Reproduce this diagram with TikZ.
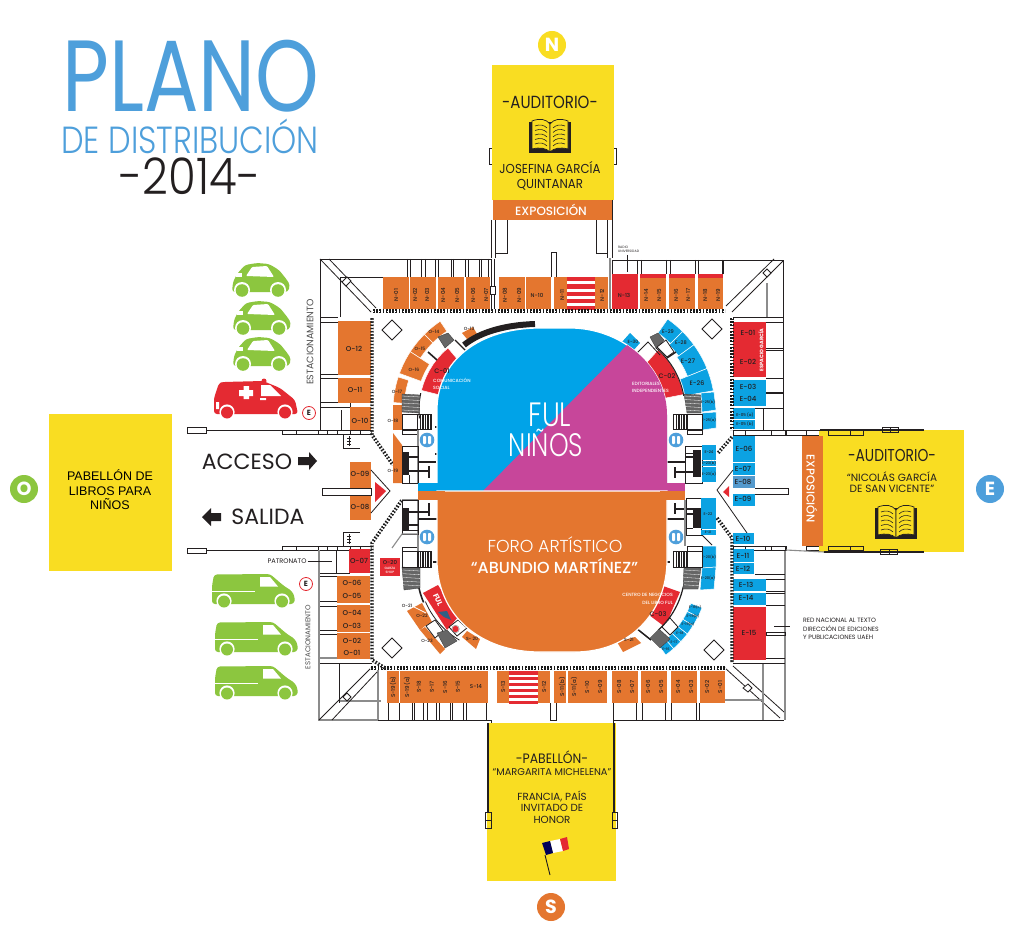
\documentclass[tikz,border=0pt]{standalone}
\usepackage{fontspec}
\usepackage{graphicx}
\setmainfont{Poppins}
\newfontfamily\lightf{Poppins Light}
\newfontfamily\medf{Poppins Medium}
\newfontfamily\arialf{Liberation Sans}
\definecolor{cor}{HTML}{E4762F}
\definecolor{cbl}{HTML}{0CA2E2}
\definecolor{cre}{HTML}{E42A32}
\definecolor{cye}{HTML}{F9DD22}
\definecolor{cma}{HTML}{C7469A}
\definecolor{csh}{HTML}{00A3E8}
\definecolor{cgr}{HTML}{8CC63F}
\definecolor{ctt}{HTML}{4E9FDB}
\definecolor{cdk}{HTML}{231F20}
\tikzset{
  w/.style={draw=cdk,line width=.8},
  g/.style={draw=black!45,line width=1.1},
  chain/.style={draw=black!90,line width=3.4,dash pattern=on 1.8 off 1.4},
  chainw/.style={draw=white,line width=1,dash pattern=on 1.8 off 1.4,dash phase=1.6},
  stairf/.style={fill=black!60,draw=black!80,line width=.3},
  sep/.style={draw=white,line width=.7},
  bk/.style={fill=cdk}
}
\newcommand\sy[2]{\scalebox{1}[#1]{#2}}
\newcommand\bx[5]{\fill[#5] (#1,#2) rectangle (#3,#4);}
\newcommand\lb[4][5.5]{\node[inner sep=0,text=cdk,font=\medf\fontsize{#1}{#1}\selectfont] at (#2,#3) {#4};}
\newcommand\lr[4][5.5]{\node[inner sep=0,text=cdk,rotate=90,font=\medf\fontsize{#1}{#1}\selectfont] at (#2,#3) {#4};}
\newcommand\wt[4][5.5]{\node[inner sep=0,text=white,font=\medf\fontsize{#1}{#1}\selectfont] at (#2,#3) {#4};}
% ring sector: cx cy r1 r2 a1 a2 colour
\newcommand\sect[7]{\filldraw[fill=#7,draw=white,line width=.5] plot[domain=#5:#6,samples=8] ({#1+#4*cos(\x)},{#2-#4*sin(\x)}) -- plot[domain=#6:#5,samples=8] ({#1+#3*cos(\x)},{#2-#3*sin(\x)}) -- cycle;}
\newcommand\arcl[6]{\draw[#6] plot[domain=#4:#5,samples=14] ({#1+#3*cos(\x)},{#2-#3*sin(\x)});}
\newcommand\chainl[1]{\draw[chain] #1; \draw[chainw] #1;}
\newcommand\stripes[6]{\fill[white] (#1,#2) rectangle (#3,#4);
  \foreach \i in {1,...,#5}{\fill[#6] (#1,{#2+(\i-1)*(#4-#2)/(#5-.6)}) rectangle (#3,{#2+(\i-1)*(#4-#2)/(#5-.6)+.6*(#4-#2)/(#5-.6)});}}
\newcommand\vstair[4]{\foreach \i in {0,1,...,5}{\fill[cdk] ({#1+\i*(#3-#1)/5.4},#2) rectangle ({#1+\i*(#3-#1)/5.4+.55*(#3-#1)/5.4},#4);}\draw[w] (#1,#2) rectangle (#3,#4);}
\newcommand\book[4]{\begin{scope}[shift={(#1,#2)},scale=#3]
  \fill[cdk] (-21,-14) rectangle (21,17);
  \filldraw[fill=cye,draw=cdk,line width=.7] (-18,-15) .. controls (-10,-18) and (-4,-17) .. (0,-12) -- (0,16) .. controls (-4,12) and (-10,11) .. (-18,13) -- cycle;
  \filldraw[fill=cye,draw=cdk,line width=.7] (18,-15) .. controls (10,-18) and (4,-17) .. (0,-12) -- (0,16) .. controls (4,12) and (10,11) .. (18,13) -- cycle;
  \foreach \k in {-10,-5.5,-1,3.5,8}{\draw[cdk,line width=.6] (-15,\k) .. controls (-10,{\k-2}) and (-6,{\k-1}) .. (-3,{\k+2}); \draw[cdk,line width=.6] (15,\k) .. controls (10,{\k-2}) and (6,{\k-1}) .. (3,{\k+2});}
  \end{scope}}
\newcommand\car[2]{\begin{scope}[shift={(#1,#2)}]
  \fill[cgr,rounded corners=3] (0,29) -- (1,19) -- (5,11) -- (13,2) -- (25,0) -- (37,1) -- (47,7) -- (55,17) -- (58,22) -- (56,29) -- cycle;
  \fill[white,rounded corners=1] (14,13) -- (20,4) -- (35,3) -- (42,14) -- cycle;
  \fill[white] (4,10) rectangle (10,14);
  \foreach \q in {10,46}{\fill[white] (\q,27) circle (8); \fill[cgr] (\q,27.5) circle (6.3);}
  \end{scope}}
\newcommand\van[2]{\begin{scope}[shift={(#1,#2)}]
  \fill[cgr,rounded corners=3] (0,30) -- (0,12) -- (2,0.5) -- (58,0) -- (72,12) -- (80,17) -- (83,24) -- (82,30) -- cycle;
  \fill[white] (48,3) -- (58,3) -- (66,12.5) -- (48,12.5) -- cycle;
  \draw[white,line width=.6] (0,17) -- (43,17);
  \foreach \q in {12,70}{\fill[white] (\q,27) circle (7.6); \fill[cgr] (\q,27.5) circle (6);}
  \end{scope}}
\begin{document}
\begin{tikzpicture}[x=1pt,y=-1pt]
\useasboundingbox (0,0) rectangle (1022,925);
\fill[white] (0,0) rectangle (1022,925);
% ---- title
\node[inner sep=0,text=ctt,font=\fontsize{81}{81}\selectfont] (titleA) at (191,76) {\sy{1.25}{PLANO}};
\node[inner sep=0,text=ctt,font=\lightf\fontsize{32}{32}\selectfont] (titleB) at (190,136) {\sy{1.18}{DE DISTRIBUCIÓN}};
\node[inner sep=0,text=cdk,font=\lightf\fontsize{45}{45}\selectfont] (titleC) at (190,176) {\sy{1.12}{-2014-}};
% ---- compass discs
\fill[cye] (552,45) circle (14); \node[inner sep=0,text=white,font=\bfseries\fontsize{19}{19}\selectfont] (discN) at (552,45) {N};
\fill[cor] (551,907) circle (14); \node[inner sep=0,text=white,font=\bfseries\fontsize{19}{19}\selectfont] (discS) at (551,907) {S};
\fill[ctt] (990,489) circle (14); \node[inner sep=0,text=white,font=\bfseries\fontsize{19}{19}\selectfont] (discE) at (990,489) {E};
\fill[cgr] (24,489) circle (14); \node[inner sep=0,text=white,font=\bfseries\fontsize{19}{19}\selectfont] (discO) at (24,489) {O};
% ---- outer building
\draw[w] (491,259) -- (320,259) -- (320,430);
\draw[w] (612,260) -- (783,260) -- (783,430);
\draw[w] (320,317) -- (338,317) (320,322) -- (338,322) (320,374) -- (338,374) (320,378) -- (338,378) (320,402) -- (350,402) (320,407) -- (350,407);
\draw[w] (340,317) -- (340,277) -- (383,277);
\draw[w] (341,410) -- (341,430) (350,403) -- (350,407);
\draw[w] (320,259) -- (371,312) (329,259) -- (376,308);
\draw[w,fill=white] (342,282) -- (347,277) -- (351,281) -- (346,286) -- cycle;
\foreach \a in {407,410,421,425,435,438,451,453,465,468,479,481,488}{\draw[w] (\a,259) -- (\a,277);}
\draw[w] (491,220) -- (491,258) (495,220) -- (495,258) (507,220) -- (507,253) -- (495,253);
\draw[w] (596,220) -- (596,253) -- (607,253) (607,220) -- (607,258) (612,220) -- (612,258);
\draw[w] (491,259) -- (491,309) (494,259) -- (494,309);
\draw[w,fill=white] (490,286) rectangle (495,294);
\draw[w] (551,277) -- (551,252) -- (556,252) -- (556,277);
\draw[g] (610,258) -- (610,309);
\draw[w] (612,260) -- (612,309);
\foreach \a in {637,641,666,670,695,698,722}{\draw[w] (\a,260) -- (\a,274);}
\draw[w] (723,274) -- (723,260);
\draw[w] (733,317) -- (783,317) (733,322) -- (783,322) (766,348) -- (783,348) (766,350) -- (783,350) (766,378) -- (783,378);
\draw[cdk,line width=1.4] (766,393) -- (783,393);
\draw[w] (755,408) -- (783,408) (763,408) -- (763,430);
\draw[g] (767,283) -- (767,317);
\draw[w] (783,261) -- (732,312) (774,259) -- (726,306);
\draw[w,fill=white] (763,273) -- (767,277) -- (771,273) -- (767,269) -- cycle;
% west road & rows
\draw[w] (206,430) -- (320,430);
\draw[w] (187,427) rectangle (206,433);
\draw[w] (282,430) rectangle (371,434);
\foreach \a in {296,318,327,337,350,360}{\draw[w] (\a,430) -- (\a,434);}
\draw[w] (343,434) -- (343,448) -- (360,448) (349,436) -- (349,446); \draw[w] (347,438) -- (351,438) (347,441) -- (351,441) (347,444) -- (351,444);
\draw[w] (206,550) -- (320,550);
\draw[w] (187,548) rectangle (206,553);
\draw[w] (282,546) rectangle (371,550);
\foreach \a in {296,318,327,337,350,360}{\draw[w] (\a,546) -- (\a,550);}
\draw[w] (343,546) -- (343,532) -- (360,532) (349,534) -- (349,544); \draw[w] (347,536) -- (351,536) (347,539) -- (351,539) (347,542) -- (351,542);
\draw[g] (319,550) -- (319,720) -- (378,720);
\draw[g] (378,670) -- (378,720) (340,701) -- (381,701);
\draw[w] (320,573) -- (350,573) (320,576) -- (337,576) (320,601) -- (337,601) (320,606) -- (337,606) (320,630) -- (337,630) (320,634) -- (337,634) (320,663) -- (372,663) (339,663) -- (339,703);
\draw[g] (320,658) -- (337,658);
\draw[w] (336,550) -- (336,573);
\node[inner sep=0,text=cdk,font=\fontsize{6.6}{6.6}\selectfont] (patronato) at (287,561) {PATRONATO};
\draw[w,line width=.6] (patronato.east) ++(1,0) -- (332,561);
\draw[w] (319,720) -- (371,668) (332,720) -- (377,672);
\draw[w,fill=white] (343,697) -- (347,701) -- (351,697) -- (347,693) -- cycle;
\foreach \a in {388,399,412,414,423,427,436,439,450,452,463,466,486}{\draw[w] (\a,703) -- (\a,720);}
\draw[w] (378,720) -- (491,720) -- (491,723);
\draw[w] (613,723) -- (613,720) -- (784,720);
\foreach \a in {613,636,642,665,671,696,699}{\draw[w] (\a,703) -- (\a,720);}
\draw[w] (550,703) -- (550,720) -- (556,720) -- (556,703);
\draw[w] (725,668) -- (780,718) (733,666) -- (784,712);
\draw[w,fill=white] (743,688) -- (748,684) -- (752,688) -- (748,692) -- cycle;
% east rows
\draw[g] (785,550) -- (785,720);
\draw[g] (763,663) -- (763,720) (725,700) -- (763,700);
\draw[w] (733,546) rectangle (786,550);
\foreach \a in {745,765,771,785}{\draw[w] (\a,546) -- (\a,550);}
\draw[w] (755,574) -- (785,574) (755,579) -- (785,579) (766,591) -- (785,591) (766,593) -- (785,593) (766,605) -- (785,605) (766,658) -- (785,658) (733,663) -- (785,663);
\draw[cdk,line width=1] (766,632) rectangle (785,635);
\draw[w,line width=.6] (774,626) -- (790,626);
\draw[w] (733,430) rectangle (863,435);
\foreach \a in {745,771,785,806,828,850}{\draw[w] (\a,430) -- (\a,435);}
\draw[w] (806,546) rectangle (863,550);
\foreach \a in {820,828,850}{\draw[w] (\a,546) -- (\a,550);}
% north annex side brackets
\draw[w] (492,148) -- (489,148) -- (489,164) -- (492,164);
\draw[w] (614,148) -- (616,148) -- (616,164) -- (614,164);
% ---- yellow halls
\fill[cye] (492,65) rectangle (614,200);
\draw[w] (493,200) -- (493,220) (612,200) -- (612,220);
\bx{493}{200}{612}{220}{cor}
\node[inner sep=0,text=cdk,font=\fontsize{15}{15}\selectfont] (audN) at (550,102) {\sy{1.17}{-AUDITORIO-}};
\book{550}{136}{1}{N}
\node[inner sep=0,text=cdk,font=\fontsize{11.8}{11.8}\selectfont] (josA) at (550,168) {\sy{1.1}{JOSEFINA GARCÍA}};
\node[inner sep=0,text=cdk,font=\fontsize{11.8}{11.8}\selectfont] (josB) at (550,185) {\sy{1.1}{QUINTANAR}};
\node[inner sep=0,text=white,font=\medf\fontsize{12}{12}\selectfont] (expN) at (551,210) {EXPOSICIÓN};
\fill[cye] (487,723) rectangle (616,881);
\draw[cdk,line width=1.1] (488,723) -- (488,812) (614,723) -- (614,812);
\draw[w,line width=.7] (485,812) rectangle (491,828) (485,820) -- (491,820) (612,812) rectangle (617,828) (612,820) -- (617,820);
\node[inner sep=0,text=cdk,font=\fontsize{12.4}{12.4}\selectfont] (pabA) at (552,757) {\sy{1.1}{-PABELLÓN-}};
\node[inner sep=0,text=cdk,font=\fontsize{9.8}{9.8}\selectfont] (pabB) at (552,772) {“MARGARITA MICHELENA”};
\node[inner sep=0,text=cdk,font=\fontsize{10.3}{10.3}\selectfont] (pabC) at (552,796) {FRANCIA, PAÍS};
\node[inner sep=0,text=cdk,font=\fontsize{10.3}{10.3}\selectfont] (pabD) at (552,808) {INVITADO DE};
\node[inner sep=0,text=cdk,font=\fontsize{10.3}{10.3}\selectfont] (pabE) at (552,820) {HONOR};
% flag
\fill[white] (550,841) -- (560,839) -- (563,851) -- (553,853) -- cycle;
\fill[cre] (560,839) -- (567,837) -- (569,849) -- (563,851) -- cycle;
\fill[blue!35!black] (542,843) -- (550,841) -- (553,853) -- (546,855) -- cycle;
\draw[cdk,line width=.9] (545,855) -- (550,875);
% east hall
\fill[cye] (819,430) rectangle (964,552);
\bx{802}{436}{823}{546}{cor}
\draw[cdk,line width=1.3] (820,430) -- (924,430) (824,552) -- (924,552);
\draw[w,line width=.6] (882,427) rectangle (898,432) (890,427) -- (890,432) (880,549) rectangle (897,554) (889,549) -- (889,554);
\draw[w] (828,430) rectangle (863,435) (850,430) -- (850,435) (828,546) rectangle (863,550) (850,546) -- (850,550);
\draw[g] (786,550) -- (824,552);
\draw[w] (786,435) -- (786,430) -- (820,430);
\node[inner sep=0,text=cdk,font=\fontsize{13.8}{13.8}\selectfont] (audE) at (892,455) {\sy{1.25}{-AUDITORIO-}};
\node[inner sep=0,text=cdk,font=\fontsize{10.5}{10.5}\selectfont] (nicA) at (892,477) {“NICOLÁS GARCÍA};
\node[inner sep=0,text=cdk,font=\fontsize{10.5}{10.5}\selectfont] (nicB) at (892,489) {DE SAN VICENTE”};
\book{896}{522}{1}{E}
\node[inner sep=0,text=white,rotate=-90,font=\medf\fontsize{11.4}{11.4}\selectfont] (expE) at (812,489) {EXPOSICIÓN};
% west hall
\fill[cye] (49,414) rectangle (172,571);
\node[inner sep=0,align=center,text=black,font=\arialf\fontsize{12.5}{14.5}\selectfont] (libros) at (110,490) {PABELLÓN DE\\LIBROS PARA\\NIÑOS};
% ---- booths north
\bx{383}{277}{409}{309}{cor}\bx{410}{277}{436}{309}{cor}\bx{438}{277}{464}{309}{cor}\bx{466}{277}{490}{309}{cor}\bx{499}{277}{525}{309}{cor}\bx{526}{277}{551}{309}{cor}\bx{554}{277}{567}{309}{cor}\bx{595}{277}{608}{309}{cor}
\stripes{567}{277}{595}{309}{5}{cre}
\bx{612}{274}{638}{309}{cre}
\foreach \a/\b in {640/666,669/695,698/723}{\bx{\a}{278}{\b}{309}{cor}\bx{\a}{274}{\b}{278}{cre}}
\foreach \p/\t in {396/N-01,415/N-02,427/N-03,443/N-04,457/N-05,473/N-06,486/N-07,505/N-08,519/N-09,562/N-11,602/N-12,646/N-14,659/N-15,676/N-16,688/N-17,705/N-18,718/N-19}{\lr{\p}{295}{\t}}
\lb{537}{295}{N-10}\lb{624}{295}{N-13}
% booths south
\bx{387}{671}{399}{703}{cor}\bx{400}{671}{488}{703}{cor}\bx{497}{671}{509}{703}{cor}\bx{538}{671}{550}{703}{cor}\bx{554}{671}{566}{703}{cor}\bx{568}{671}{607}{703}{cor}\bx{612}{671}{638}{703}{cor}\bx{641}{671}{667}{703}{cor}\bx{671}{671}{697}{703}{cor}\bx{700}{671}{725}{703}{cor}
\stripes{509}{671}{538}{703}{6}{cre}
\foreach \p/\t in {393/S-19(b),407/S-19(a),419/S-18,432/S-17,445/S-16,458/S-15,503/S-13,544/S-12,562/S-11(b),574/S-11(a),587/S-10,600/S-09,619/S-08,632/S-07,648/S-06,661/S-05,678/S-04,691/S-03,707/S-02,720/S-01}{\lr{\p}{687}{\t}}
\lb{476}{687}{S-14}
% booths west
\bx{338}{321}{371}{375}{cor}\bx{338}{378}{371}{403}{cor}\bx{350}{407}{371}{430}{cor}
\bx{350}{462}{371}{488}{cor}\bx{350}{495}{371}{520}{cor}
\bx{349}{549}{370}{573}{cre}\bx{337}{576}{370}{603}{cor}\bx{337}{605}{370}{632}{cor}\bx{337}{633}{370}{659}{cor}
\bx{380}{558}{400}{576}{cre}
\foreach \p/\q/\t in {354/349/O-12,355/390/O-11,360/421/O-10,360/474/O-09,360/507/O-08,359/561/O-07,352/583/O-06,352/596/O-05,352/613/O-04,352/626/O-03,352/641/O-02,352/653/O-01}{\lb[7]{\p}{\q}{\t}}
\lb{390}{562}{O-20}\wt[3.2]{390}{568}{GARZA}\wt[3.2]{390}{572.5}{SHOP}
\draw[w] (322,488) rectangle (371,495);
\fill[cre] (375,482) -- (386,491) -- (375,502) -- cycle;
\draw[w] (371,470) -- (390,491) -- (371,513);
% booths east
\bx{733}{322}{766}{377}{cre}\bx{733}{380}{766}{406}{cbl}\bx{733}{408}{755}{419}{cbl}\bx{733}{420}{755}{429}{cbl}
\bx{733}{436}{755}{462}{cbl}\bx{733}{463}{755}{475}{cbl}\bx{733}{476}{755}{488}{ctt!85!gray}\bx{733}{494}{755}{506}{cbl}
\bx{733}{533}{754}{544}{cbl}\bx{733}{549}{754}{562}{cbl}\bx{733}{563}{754}{574}{cbl}\bx{733}{579}{766}{591}{cbl}\bx{733}{593}{766}{605}{cbl}\bx{733}{607}{766}{660}{cre}
\foreach \q/\r/\t in {333/748/E-01,362/748/E-02,387/748/E-03,399/748/E-04,449/744/E-06,469/743/E-07,482/743/E-08,499/743/E-09,539/743/E-10,556/743/E-11,569/743/E-12,585/746/E-13,598/746/E-14,633/749/E-15}{\lb[7]{\r}{\q}{\t}}
\lb[4]{745}{415}{E-05 (a)}\lb[4]{745}{424}{E-05 (b)}
\node[inner sep=0,text=white,rotate=90,font=\bfseries\fontsize{5}{5}\selectfont] (espacio) at (761,350) {ESPACIO GARCÍA};
\draw[w] (755,488) -- (788,488) -- (788,494) -- (755,494);
\fill[cre] (723,492) -- (729,486) -- (729,497) -- cycle;
\draw[w] (733,470) -- (717,490) -- (747,533);
% red-net note
\node[inner sep=0,align=left,anchor=west,text=cdk,font=\fontsize{6.2}{8.6}\selectfont] (rednac) at (803,629) {RED NACIONAL AL TEXTO\\DIRECCIÓN DE EDICIONES\\Y PUBLICACIONES UAEH};
\node[inner sep=0,align=left,anchor=west,text=cdk,font=\fontsize{3.3}{4.6}\selectfont] (radio) at (618,249.5) {RADIO\\UNIVERSIDAD};
\draw[w,line width=.6] (627,255) -- (627,272);
% ---- chain fence
\chainl{(373,311) -- (725,311)}
\chainl{(732,318) -- (732,430)}
\chainl{(732,437) -- (718,453)}
\chainl{(717,518) -- (732,538) -- (732,663)}
\chainl{(725,668) -- (370,668)}
\chainl{(385,668) -- (372,660) -- (372,543) -- (402,500)}
\chainl{(372,318) -- (372,435) -- (393,465)}
% diamonds
\foreach \p/\q in {392/330,712/329,392/648,714/650}{\filldraw[fill=white,draw=cdk,line width=.8] (\p-10,\q) -- (\p,\q-10) -- (\p+10,\q) -- (\p,\q+10) -- cycle;}
% ---- ring booths: NW (centre 500,410)
\sect{500}{410}{95}{107}{124}{135}{cor}
\sect{500}{410}{95}{107}{135}{147}{cor}
\sect{500}{410}{84}{107}{147}{160}{cor}
\sect{500}{410}{96}{107}{162}{176}{cor}
\sect{500}{410}{58}{81}{130}{166}{cre}
\bx{393}{405}{402}{430}{cor}
\fill[cor] (393,433) -- (402,445) -- (402,483) -- (393,483) -- cycle;
\fill[cor] (462,333) -- (473,327) -- (477,334) -- (467,339) -- cycle;
\arcl{500}{410}{81}{168}{186}{w,line width=1}
\fill[stairf] (438,337) -- (448,333) -- (454,340) -- (445,348) -- cycle;
\fill[stairf] (402,394) -- (420,395) -- (419,413) -- (402,412) -- cycle;
\foreach \t in {0,1,2,3,4}{\draw[white,line width=.3] (402,396+\t*3.5) -- (420,397+\t*3.5);}
\draw[cdk,line width=1.6] (428,352) -- (437,360);
\draw[cdk,line width=1.3] (455,340) -- (467,352);
\draw[cdk,line width=6] (464,345) .. controls (480,332) and (505,325) .. (535,324);
\draw[w] (402,414) rectangle (417,429) (402,430) rectangle (418,434);
\draw[w] (402,414) -- (402,430);
\vstair{417}{414}{431}{429}
% NE (centre 604,410)
\sect{604}{410}{82}{111}{10}{22}{cbl}
\sect{604}{410}{90}{111}{22}{36}{cbl}
\sect{604}{410}{92}{111}{36}{45}{cbl}
\sect{604}{410}{94}{111}{45}{55}{cbl}
\sect{604}{410}{55}{81}{11}{48}{cre}
\fill[cbl] (622,342) -- (630,333) -- (640,343) -- (632,352) -- cycle;
\arcl{604}{410}{81}{10}{50}{w,line width=1}
\draw[w] (637,353) -- (648,342) -- (660,355);
\fill[stairf] (650,337) -- (658,333) -- (664,340) -- (656,348) -- cycle;
\draw[w,fill=white] (657,347) -- (666,340) -- (674,352) -- (667,357) -- cycle;
\draw[cdk,line width=1.5] (667,358) -- (676,352);
\fill[stairf] (684,394) -- (701,395) -- (701,413) -- (687,413) -- cycle;
\foreach \t in {0,1,2,3,4}{\draw[white,line width=.3] (684,396+\t*3.5) -- (701,397+\t*3.5);}
\filldraw[fill=cbl,draw=white,line width=.5] (701,393) -- (714,392) -- (716,410) -- (702,412) -- cycle;
\filldraw[fill=cbl,draw=white,line width=.5] (702,413) -- (716,412) -- (716,428) -- (702,430) -- cycle;
\draw[w] (687,414) rectangle (702,429) (687,430) rectangle (702,434);
\vstair{673}{414}{687}{429}
% SW (centre 500,570)
\fill[cre] (423,593) -- (438,585) -- (458,617) -- (447,630) -- cycle;
\fill[cor] (407,611) -- (422,603) -- (432,622) -- (425,626) -- (420,630) -- cycle;
\fill[cor] (420,630) -- (440,654) -- (445,649) -- (425,627) -- cycle;
\draw[sep] (414,607) -- (426,613);
\fill[cor] (462,637) -- (467,631) -- (480,639) -- (476,649) -- cycle;
\arcl{500}{570}{83}{190}{203}{cdk,line width=1.6}
\arcl{500}{570}{81}{203}{240}{w}
\fill[stairf] (402,567) -- (420,568) -- (420,588) -- (404,590) -- cycle;
\foreach \t in {0,1,2,3,4}{\draw[white,line width=.3] (403,570+\t*3.7) -- (420,571+\t*3.7);}
\draw[w,fill=white] (426,626) -- (435,620) -- (443,631) -- (435,638) -- cycle;
\fill[stairf] (437,633) -- (447,630) -- (457,641) -- (445,648) -- cycle;
\draw[w,fill=white] (449,627) -- (458,620) -- (467,628) -- (457,636) -- cycle;
\fill[cre] (455.5,629) circle (3.2); \draw[black!50,line width=.4] (455.5,629) circle (3.8);
\draw[w] (402,551) rectangle (418,567) (402,547) rectangle (418,551);
\vstair{417}{551}{431}{567}
\draw[cdk,line width=1.4] (433,562) -- (438,562);
% SE (centre 604,570)
\fill[cre] (663,586) -- (680,592) -- (673,608) -- (665,627) -- (649,615) -- cycle;
\fill[cor] (617,642) -- (635,637) -- (641,643) -- (623,652) -- cycle;
\sect{604}{570}{93}{105}{-26.5}{-21}{cbl}
\sect{604}{570}{93}{105}{-32}{-26.5}{cbl}
\sect{604}{570}{93}{105}{-37.5}{-32}{cbl}
\sect{604}{570}{93}{105}{-43}{-37.5}{cbl}
\sect{604}{570}{93}{105}{-48.5}{-43}{cbl}
\sect{604}{570}{93}{105}{-54}{-48.5}{cbl}
\arcl{604}{570}{81}{-12}{-48}{w,line width=1.2}
\draw[cdk,line width=1.5] (636,628) -- (651,640);
\fill[stairf] (650,638) -- (659,629) -- (670,639) -- (660,648) -- cycle;
\draw[w,fill=white] (662,627) -- (670,618) -- (678,627) -- (670,635) -- cycle;
\fill[stairf] (684,567) -- (701,568) -- (698,589) -- (683,589) -- cycle;
\foreach \t in {0,1,2,3,4}{\draw[white,line width=.3] (684,570+\t*3.7) -- (700,571+\t*3.7);}
\filldraw[fill=cbl,draw=white,line width=.5] (702,546) -- (716,546) -- (716,567) -- (702,568) -- cycle;
\filldraw[fill=cbl,draw=white,line width=.5] (702,568) -- (716,567) -- (714,589) -- (700,590) -- cycle;
\draw[w] (687,546) rectangle (702,551) (687,551) rectangle (702,567);
\vstair{673}{551}{687}{567}
\draw[cdk,line width=1.4] (664,562) -- (670,562);
% central rooms west
\draw[g] (418,430) -- (418,483);
\draw[g] (418,500) -- (418,551) (402,500) -- (418,500);
\draw[w] (402,446) rectangle (418,483) (402,446) -- (418,446) (409,475) -- (409,483);
\bx{402}{452}{409}{475}{bk}
\draw[cdk,line width=1.3] (418,462) -- (436,462) (409,457) -- (418,457) (409,471) -- (429,471);
\draw[cdk,line width=1.5] (429,466) -- (429,478);
\draw[cdk,line width=1.4] (435,427) -- (438,427) (435,454) -- (438,454);
\draw[w] (402,500) rectangle (418,534) (402,530) -- (418,530);
\bx{402}{508}{409}{530}{bk}
\draw[cdk,line width=1.3] (409,512) -- (429,512) (418,519) -- (438,519) (409,525) -- (418,525);
\draw[cdk,line width=1.5] (429,503) -- (429,516);
\draw[g] (392,548) -- (402,534) -- (418,534);
% central rooms east
\draw[w] (685,446) rectangle (702,483) (685,453) -- (693,453);
\bx{693}{450}{701}{477}{bk}
\draw[cdk,line width=1.3] (675,472) -- (693,472) (666,462) -- (685,462) (685,457) -- (693,457);
\draw[cdk,line width=1.5] (675,467) -- (675,478);
\draw[w] (686,498) rectangle (701,535) (686,528) -- (693,528);
\bx{693}{508}{701}{528}{bk}
\draw[cdk,line width=1.3] (675,509) -- (693,509) (664,519) -- (685,519) (685,514) -- (693,514);
\draw[cdk,line width=1.5] (675,503) -- (675,514);
\draw[g] (685,500) -- (685,546);
\draw[w] (702,535) -- (712,545);
\bx{702}{445}{716}{460}{cbl}\bx{702}{461}{716}{466}{cbl}\bx{702}{467}{716}{482}{cbl}
\bx{701}{498}{716}{529}{cbl}\bx{701}{530}{716}{535}{cbl}
\lb[3.8]{709}{452}{E-24}\lb[3.6]{709}{463.5}{E-23(b)}\lb[3.6]{709}{474}{E-23(a)}\lb[3.8]{708}{514}{E-22}\lb[3.2]{708}{532.5}{E-21}
\lb[3.6]{709}{557}{E-20(b)}\lb[3.6]{708}{578}{E-20(a)}\lb[3.6]{708}{402}{E-25(b)}\lb[3.6]{709}{420}{E-25(a)}
% ---- central field
\begin{scope}
\filldraw[fill=csh,draw=white,line width=1.2] (437,491) -- (437,410) .. controls (437,360) and (480,328) .. (540,328) -- (570,328) .. controls (620,328) and (667,365) .. (667,415) -- (667,491) -- cycle;
\bx{418}{483}{500}{491}{csh}
\begin{scope}
\clip (437,491) -- (437,410) .. controls (437,360) and (480,328) .. (540,328) -- (570,328) .. controls (620,328) and (667,365) .. (667,415) -- (667,491) -- cycle;
\fill[cma] (483,491) -- (640,332) -- (700,332) -- (700,491) -- cycle;
\end{scope}
\bx{660}{483}{685}{491}{cma}
\filldraw[fill=cor,draw=white,line width=1.2] (437,491) -- (437,560) .. controls (437,615) and (480,652) .. (540,652) -- (575,652) .. controls (630,652) and (667,612) .. (667,560) -- (667,491) -- cycle;
\bx{418}{491}{445}{500}{cor}\bx{660}{491}{685}{500}{cor}
\end{scope}
% restroom discs
\foreach \p/\q in {427/440,427/537,676/440,676/537}{
  \fill[ctt] (\p,\q) circle (7.3);
  \fill[white,rounded corners=.8] (\p-4,\q-4) rectangle (\p-1,\q+4);
  \fill[white,rounded corners=.8] (\p+1,\q-4) rectangle (\p+4,\q+4);}
% ring labels
\lb[4.5]{434}{332}{O-14}\lb[4.5]{469}{329}{O-13}\lb[4.5]{420}{349}{O-15}\lb[4.5]{414}{370}{O-16}\lb[4.5]{397}{392}{O-17}\lb[4.5]{393}{421}{O-18}\lb[4.5]{393}{471}{O-19}
\lb[6.5]{442}{371}{C-01}
\node[inner sep=0,anchor=west,align=left,text=white,font=\medf\fontsize{4.6}{7.4}\selectfont] (comsoc) at (433,384) {COMUNICACIÓN\\SOCIAL};
\lb[6.5]{667}{376}{C-02}
\node[inner sep=0,anchor=west,align=left,text=white,font=\medf\fontsize{4.6}{7.4}\selectfont] (edit) at (632,387.5) {EDITORIALES\\INDEPENDIENTES};
\lb[6.5]{658}{614}{C-03}
\node[inner sep=0,anchor=east,align=right,text=white,font=\medf\fontsize{4.6}{8}\selectfont] (cneg) at (673,599) {CENTRO DE NEGOCIOS\\DEL LIBRO FUL};
\lb[5]{668}{332}{E-29}\lb[5]{681}{343}{E-28}\lb[6.3]{688}{361}{E-27}\lb[6.3]{697}{383}{E-26}\lb[4.5]{633}{342}{E-30}
\foreach \p/\q/\t in {695/607/E-19(c),693/616/E-19(b),688/624/E-19(a),680/633/E-18,674/642/E-17,666/649/E-16}{\lb[3.4]{\p}{\q}{\t}}
\lb[4.5]{629}{640}{S-21}\lb[4.5]{472}{639}{S- 20}
\lb[4.5]{407}{606}{O-21}\lb[4.5]{422}{616}{O-22}\lb[4.5]{427}{641}{O-23}
\node[inner sep=0,rotate=-66,text=white,font=\bfseries\fontsize{7.5}{7.5}\selectfont] (fullab) at (438,600) {FUL};
\fill[ctt!60!black] (438,612) -- (447,611) -- (451,620) -- (444,617) -- cycle;
% centre text
\node[inner sep=0,text=white,font=\lightf\fontsize{27}{27}\selectfont] (ful) at (550,415) {\sy{1.25}{FUL}};
\node[inner sep=0,text=white,font=\lightf\fontsize{25}{25}\selectfont] (ninos) at (546,443) {\sy{1.3}{NIÑOS}};
\node[inner sep=0,text=white,font=\lightf\fontsize{17.3}{17.3}\selectfont] (foro) at (555,545) {FORO ARTÍSTICO};
\node[inner sep=0,text=white,font=\medf\fontsize{16}{16}\selectfont] (abundio) at (554.5,566) {“ABUNDIO MARTÍNEZ”};
% ---- access
\node[inner sep=0,text=cdk,font=\fontsize{22}{22}\selectfont] (acceso) at (247,462) {ACCESO};
\fill[cdk] (298,457) -- (309,457) -- (309,452) -- (317,461) -- (309,470) -- (309,465) -- (298,465) -- cycle;
\node[inner sep=0,text=cdk,font=\fontsize{22}{22}\selectfont] (salida) at (268,517) {SALIDA};
\fill[cdk] (221,513) -- (211,513) -- (211,508) -- (202,517) -- (211,526) -- (211,521) -- (221,521) -- cycle;
% ---- vehicles
\car{232}{263}\car{233}{301}\car{233}{337}
\fill[cre,rounded corners=3] (214,414) -- (214,398) -- (219,383) -- (223,382) -- (263,381) -- (280,388) -- (295,400) -- (298,414) -- cycle;
\fill[cre] (264,381) circle (2.5);
\fill[white] (261,385) -- (270,385) -- (281,396) -- (261,396) -- cycle;
\fill[white] (239,390) rectangle (253,396) (243.5,386) rectangle (249,399);
\fill[white] (260,398) rectangle (266,400) (216,402) rectangle (219,409);
\foreach \q in {227,285}{\fill[white] (\q,412) circle (7.6); \fill[cre] (\q,412.5) circle (6);}
\van{212}{574}\van{215}{622}\van{215}{666}
\foreach \p/\q in {309/413,306/584}{\filldraw[fill=white,draw=cre,line width=.8] (\p,\q) circle (6.5); \node[inner sep=0,text=cdk,font=\bfseries\fontsize{7.5}{7.5}\selectfont] at (\p,\q) {E};}
\node[inner sep=0,rotate=90,text=black!70,font=\fontsize{9.4}{9.4}\selectfont] (estA) at (310,342) {ESTACIONAMIENTO};
\node[inner sep=0,rotate=90,text=black!70,font=\fontsize{7}{7}\selectfont] (estB) at (308,637) {ESTACIONAMIENTO};
\end{tikzpicture}
\end{document}
